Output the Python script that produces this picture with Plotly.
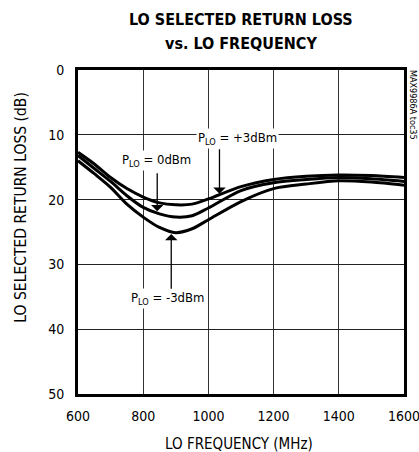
import plotly.graph_objects as go

freq = [600, 650, 700, 750, 800, 850, 900, 950, 1000, 1100, 1200, 1300, 1400, 1500, 1600]
rl_p3 = [12.7, 14.5, 16.6, 18.3, 19.6, 20.5, 20.8, 20.7, 19.9, 18.0, 16.9, 16.4, 16.2, 16.3, 16.6]
rl_0 = [13.2, 15.2, 17.2, 19.4, 21.2, 22.2, 22.7, 22.5, 21.3, 18.6, 17.4, 16.9, 16.6, 16.8, 17.2]
rl_m3 = [14.0, 16.0, 18.1, 20.7, 22.7, 24.3, 25.1, 24.5, 23.1, 20.3, 18.3, 17.6, 17.1, 17.3, 17.8]

x_ticks = [600, 800, 1000, 1200, 1400, 1600]
y_ticks = [0, 10, 20, 30, 40, 50]

FONT = "DejaVu Sans Condensed, Liberation Sans Narrow, Roboto, sans-serif"

fig = go.Figure()
for ys in (rl_p3, rl_0, rl_m3):
    fig.add_trace(go.Scatter(x=freq, y=ys, mode="lines",
                             line=dict(color="black", width=3, shape="spline", smoothing=0.8),
                             showlegend=False, hoverinfo="skip"))

# curve labels with arrows
fig.add_annotation(x=1089, y=10.5, text="P<sub>LO</sub> = +3dBm", showarrow=False,
                   bgcolor="white", font=dict(size=13, color="black", family=FONT))
fig.add_annotation(x=1034, y=19.1, ax=1034, ay=12.0, axref="x", ayref="y", text="",
                   showarrow=True, arrowhead=1, arrowsize=1.6, arrowwidth=1.3, arrowcolor="black")
fig.add_annotation(x=840, y=13.9, text="P<sub>LO</sub> = 0dBm", showarrow=False,
                   bgcolor="white", font=dict(size=13, color="black", family=FONT))
fig.add_annotation(x=843, y=21.8, ax=843, ay=15.7, axref="x", ayref="y", text="",
                   showarrow=True, arrowhead=1, arrowsize=1.6, arrowwidth=1.3, arrowcolor="black")
fig.add_annotation(x=874, y=35.2, text="P<sub>LO</sub> = -3dBm", showarrow=False,
                   bgcolor="white", font=dict(size=13, color="black", family=FONT))
fig.add_annotation(x=886, y=25.3, ax=886, ay=34.0, axref="x", ayref="y", text="",
                   showarrow=True, arrowhead=1, arrowsize=1.6, arrowwidth=1.3, arrowcolor="black")

# watermark
fig.add_annotation(xref="paper", yref="paper", x=1.0, y=1.0, xanchor="left", yanchor="top",
                   xshift=2, yshift=2, text="MAX9986A toc35", textangle=90, showarrow=False,
                   font=dict(size=9, color="black", family=FONT))

# title (two lines)
fig.add_annotation(xref="paper", yref="paper", x=0.5, y=1.157, xanchor="center", yanchor="middle",
                   text="<b>LO SELECTED RETURN LOSS</b>", showarrow=False,
                   font=dict(size=16, color="black", family=FONT))
fig.add_annotation(xref="paper", yref="paper", x=0.5, y=1.083, xanchor="center", yanchor="middle",
                   text="<b>vs. LO FREQUENCY</b>", showarrow=False,
                   font=dict(size=16, color="black", family=FONT))

# axis titles
fig.add_annotation(xref="paper", yref="paper", x=-0.175, y=0.575, xanchor="center", yanchor="middle",
                   text="LO SELECTED RETURN LOSS (dB)", textangle=-90, showarrow=False,
                   font=dict(size=15.5, color="black", family=FONT))
fig.add_annotation(xref="paper", yref="paper", x=0.494, y=-0.155, xanchor="center", yanchor="middle",
                   text="LO FREQUENCY (MHz)", showarrow=False,
                   font=dict(size=15, color="black", family=FONT))

fig.update_layout(
    width=419, height=452,
    margin=dict(l=78, r=15, t=70, b=58, autoexpand=False),
    paper_bgcolor="white", plot_bgcolor="white",
    xaxis=dict(range=[600, 1600], tickvals=x_ticks, ticks="", showgrid=True,
               gridcolor="#333", gridwidth=1, zeroline=False, automargin=False,
               showline=True, linecolor="black", linewidth=3, mirror=True,
               ticklabelstandoff=7, ticklabeloverflow="allow",
               tickfont=dict(size=14, color="black", family=FONT)),
    yaxis=dict(range=[50, 0], tickvals=y_ticks, ticks="", showgrid=True,
               gridcolor="#222", gridwidth=1, zeroline=False, automargin=False,
               showline=True, linecolor="black", linewidth=3, mirror=True,
               ticklabelstandoff=8, ticklabeloverflow="allow",
               tickfont=dict(size=14, color="black", family=FONT)),
)

fig.write_html("out.html", config={"displayModeBar": False},
               post_script="document.body.style.margin='0';document.body.style.overflow='hidden';")
